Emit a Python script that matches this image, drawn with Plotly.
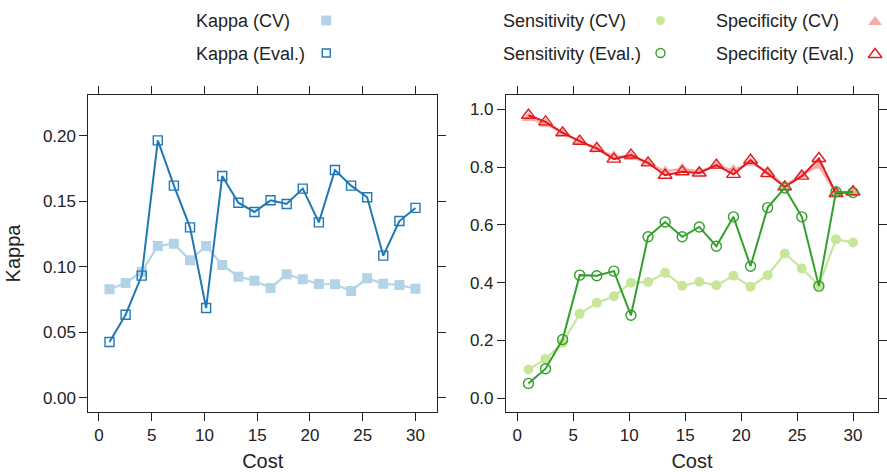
import plotly.graph_objects as go

cost = [1.00, 2.526, 4.053, 5.579, 7.105, 8.632, 10.158, 11.684, 13.211, 14.737,
        16.263, 17.789, 19.316, 20.842, 22.368, 23.895, 25.421, 26.947, 28.474, 30.00]

kappa_cv = [0.0829, 0.0877, 0.0963, 0.1159, 0.1176, 0.1050, 0.1159, 0.1014, 0.0925, 0.0894,
            0.0839, 0.0943, 0.0905, 0.0869, 0.0867, 0.0816, 0.0912, 0.0871, 0.0861, 0.0833]
kappa_eval = [0.0427, 0.0635, 0.0933, 0.1964, 0.1619, 0.1301, 0.0686, 0.1692, 0.1489, 0.1418,
              0.1507, 0.1479, 0.1596, 0.1339, 0.1738, 0.1619, 0.1530, 0.1085, 0.1349, 0.1449]

sens_cv = [0.099, 0.136, 0.192, 0.292, 0.330, 0.353, 0.400, 0.402, 0.434, 0.389,
           0.403, 0.391, 0.424, 0.386, 0.426, 0.501, 0.449, 0.391, 0.550, 0.539]
sens_eval = [0.051, 0.102, 0.203, 0.426, 0.424, 0.440, 0.287, 0.559, 0.610, 0.559,
             0.593, 0.526, 0.628, 0.457, 0.660, 0.728, 0.628, 0.388, 0.715, 0.712]

spec_cv = [0.970, 0.950, 0.920, 0.888, 0.862, 0.838, 0.835, 0.815, 0.785, 0.795,
           0.785, 0.805, 0.790, 0.815, 0.785, 0.735, 0.775, 0.805, 0.710, 0.710]
spec_eval = [0.980, 0.957, 0.919, 0.890, 0.865, 0.828, 0.842, 0.815, 0.772, 0.784,
             0.780, 0.807, 0.775, 0.824, 0.778, 0.732, 0.769, 0.830, 0.709, 0.715]

legend_labels = ["Kappa (CV)", "Kappa (Eval.)", "Sensitivity (CV)", "Sensitivity (Eval.)",
                 "Specificity (CV)", "Specificity (Eval.)"]

C_KCV, C_KEV = "#B3D4E6", "#1F78B4"
C_SCV, C_SEV = "#C8E69A", "#33A02C"
C_PCV, C_PEV = "#F9A9A9", "#E31A1C"

W, H = 887, 472
FONT = "Liberation Sans, Arial, Helvetica, sans-serif"
FS = 17
INK = "#222222"

fig = go.Figure()

def add(x, y, color, symbol, size, xa, ya, open_=False, lw=2):
    if open_:
        marker = dict(symbol=symbol + "-open", size=size, color=color, line=dict(width=1.4, color=color))
    else:
        marker = dict(symbol=symbol, size=size, color=color, line=dict(width=0))
    fig.add_trace(go.Scatter(x=x, y=y, mode="lines+markers", line=dict(color=color, width=lw),
                             marker=marker, xaxis=xa, yaxis=ya, showlegend=False,
                             hoverinfo="x+y"))

# left panel
add(cost, kappa_cv, C_KCV, "square", 10, "x", "y", lw=2.2)
add(cost, kappa_eval, C_KEV, "square", 9, "x", "y", open_=True)
# right panel
add(cost, spec_cv, C_PCV, "triangle-up", 12, "x2", "y2", lw=2.4)
add(cost, sens_cv, C_SCV, "circle", 10, "x2", "y2", lw=2.2)
add(cost, spec_eval, C_PEV, "triangle-up", 12, "x2", "y2", open_=True)
add(cost, sens_eval, C_SEV, "circle", 10, "x2", "y2", open_=True)

# legend key markers on a full-page overlay axis (pixel coordinates)
key = [
    (328.5, 20.5, C_KCV, "square", 10, False),
    (328.5, 53.0, C_KEV, "square", 8, True),
    (665.0, 20.5, C_SCV, "circle", 9, False),
    (665.0, 53.0, C_SEV, "circle", 9, True),
    (881.0, 22.0, C_PCV, "triangle-up", 12, False),
    (881.0, 54.5, C_PEV, "triangle-up", 12, True),
]
for kx, ky, col, sym, sz, op in key:
    m = dict(symbol=sym + ("-open" if op else ""), size=sz, color=col,
             line=dict(width=1.4 if op else 0, color=col))
    fig.add_trace(go.Scatter(x=[kx], y=[ky], mode="markers", marker=m, xaxis="x3", yaxis="y3",
                             showlegend=False, hoverinfo="skip", cliponaxis=False))

text_pos = [(196, 21), (196, 54), (505, 21), (505, 54), (720, 21), (720, 54)]
for (tx, ty), lab in zip(text_pos, legend_labels):
    fig.add_annotation(x=tx, y=ty, xref="x3", yref="y3", text=lab, showarrow=False,
                       xanchor="left", yanchor="middle", borderpad=0,
                       font=dict(family=FONT, size=18, color=INK))

def px_x(p):
    return p / W

def px_y(p):
    return 1 - p / H

axis_common = dict(showgrid=False, zeroline=False, showline=True, linecolor=INK, linewidth=1,
                   mirror="ticks", ticks="outside", ticklen=8, tickcolor=INK, tickwidth=1,
                   tickfont=dict(family=FONT, size=FS, color=INK))

fig.update_layout(
    width=W, height=H,
    margin=dict(l=0, r=0, t=0, b=0),
    paper_bgcolor="white", plot_bgcolor="rgba(0,0,0,0)",
    font=dict(family=FONT, size=FS, color=INK),
    xaxis=dict(domain=[px_x(89), px_x(440)], range=[-1.0, 32.04], tickvals=[0, 5, 10, 15, 20, 25, 30],
               title=dict(text="Cost", standoff=11), anchor="y", **axis_common),
    yaxis=dict(domain=[px_y(412), px_y(95)], range=[-0.0107, 0.231],
               tickvals=[0.0, 0.05, 0.10, 0.15, 0.20], ticktext=["0.00", "0.05", "0.10", "0.15", "0.20"],
               title=dict(text="Kappa", standoff=16), anchor="x", **axis_common),
    xaxis2=dict(domain=[px_x(509.4), px_x(884)], range=[-1.01, 32.23], tickvals=[0, 5, 10, 15, 20, 25, 30],
                title=dict(text="Cost", standoff=11), anchor="y2", **axis_common),
    yaxis2=dict(domain=[px_y(412), px_y(95)], range=[-0.048, 1.05],
                tickvals=[0.0, 0.2, 0.4, 0.6, 0.8, 1.0], ticktext=["0.0", "0.2", "0.4", "0.6", "0.8", "1.0"],
                anchor="x2", **axis_common),
    xaxis3=dict(domain=[0, 1], range=[0, W], visible=False, fixedrange=True, anchor="y3"),
    yaxis3=dict(domain=[0, 1], range=[H, 0], visible=False, fixedrange=True, anchor="x3"),
)

fig.write_html("out.html", config={"displayModeBar": False},
               post_script="document.body.style.margin='0px';document.body.style.overflow='hidden';")
